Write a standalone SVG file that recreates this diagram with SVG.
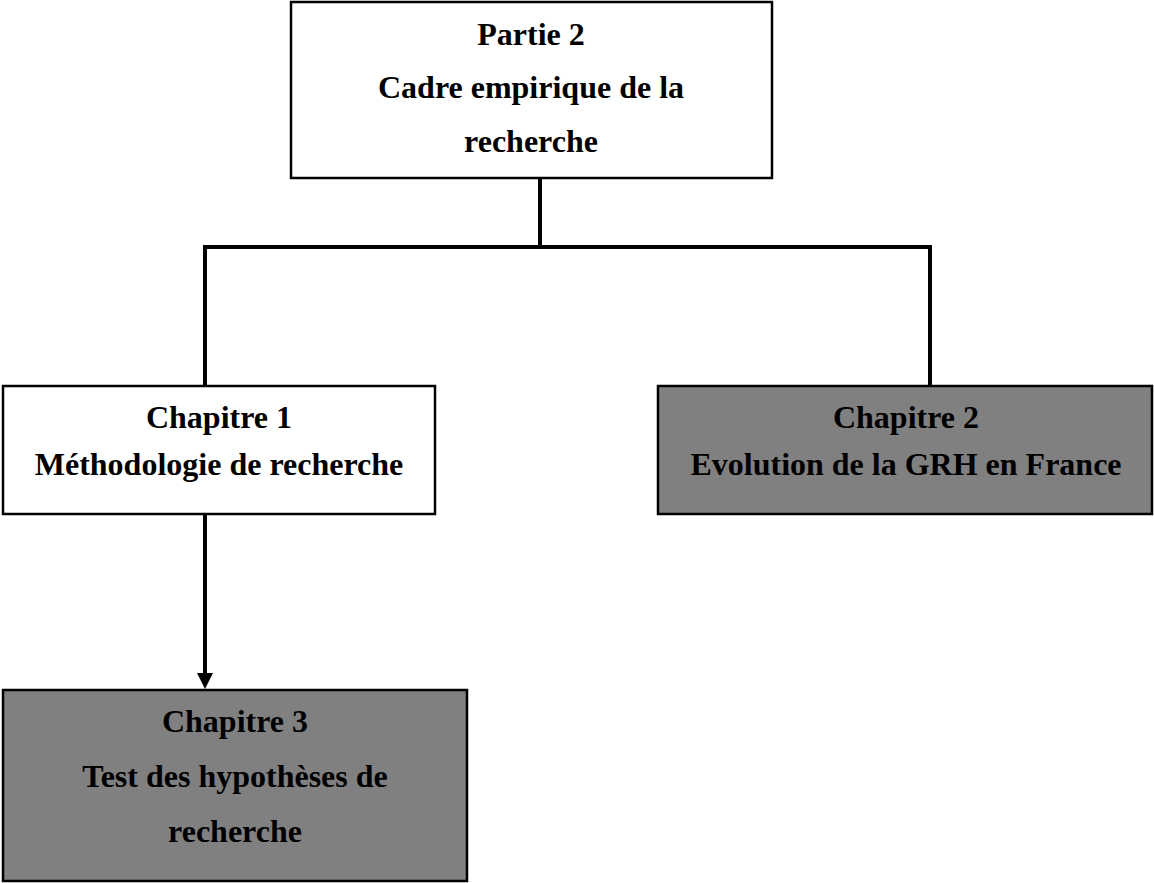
<svg xmlns="http://www.w3.org/2000/svg" width="1154" height="883" viewBox="0 0 1154 883">
<style>
.box{stroke:#000;stroke-width:2.5}
.w{fill:#fff}
.g{fill:#808080}
.t{font-family:"Liberation Serif","Times New Roman",serif;font-weight:bold;font-size:32px;fill:#000;text-anchor:middle}
.c{stroke:#000;stroke-width:4;fill:none}
</style>
<rect width="1154" height="883" fill="#fff"/>
<g id="connectors">
<line class="c" x1="540" y1="178" x2="540" y2="247"/>
<line class="c" x1="203" y1="247" x2="932" y2="247"/>
<line class="c" x1="205" y1="245" x2="205" y2="390"/>
<line class="c" x1="930" y1="245" x2="930" y2="390"/>
<line class="c" x1="205" y1="514" x2="205" y2="674"/>
<path d="M197,673 L213,673 L205,689 Z" fill="#000"/>
</g>
<g id="partie2">
<rect class="box w" x="291" y="2" width="481" height="176"/>
<text class="t" x="531" y="45">Partie 2</text>
<text class="t" x="531" y="98">Cadre empirique de la</text>
<text class="t" x="531" y="152">recherche</text>
</g>
<g id="chapitre1">
<rect class="box w" x="3" y="386" width="432" height="128"/>
<text class="t" x="219" y="428">Chapitre 1</text>
<text class="t" x="219" y="475">Méthodologie de recherche</text>
</g>
<g id="chapitre2">
<rect class="box g" x="658" y="386" width="494" height="128"/>
<text class="t" x="906" y="428">Chapitre 2</text>
<text class="t" x="906" y="475">Evolution de la GRH en France</text>
</g>
<g id="chapitre3">
<rect class="box g" x="3" y="690" width="464" height="191"/>
<text class="t" x="235" y="732">Chapitre 3</text>
<text class="t" x="235" y="787">Test des hypothèses de</text>
<text class="t" x="235" y="842">recherche</text>
</g>
</svg>
